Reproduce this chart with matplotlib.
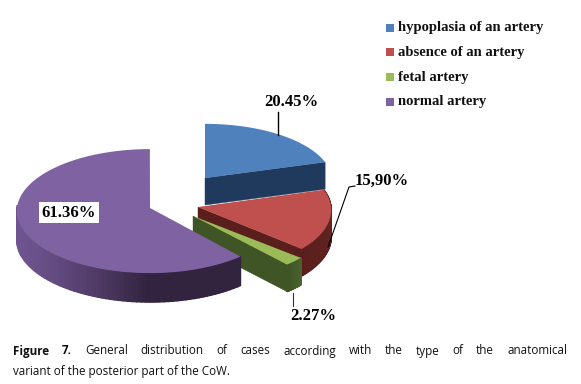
import matplotlib
matplotlib.use('Agg')
import matplotlib.pyplot as plt
from matplotlib.patches import Polygon, Rectangle
import numpy as np

# Data
labels = ['hypoplasia of an artery', 'absence of an artery', 'fetal artery', 'normal artery']
values = [20.45, 15.90, 2.27, 61.36]
value_labels = ['20.45%', '15,90%', '2.27%', '61.36%']

top_colors = ['#4f81bd', '#c0504d', '#9bbb59', '#7f62a1']
wall_colors = ['#1f3a5c', '#5a1f1d', '#3f5526', '#32233f']
rim_light = ['#2a4a70', '#6a2624', '#4a6330', '#6f5590']

# apex of every slice in pixels (exploded pie), disc radii, depth
centers = [(205, 178), (198, 207), (193, 216), (150, 208)]
radii_x = [127, 133, 138, 133]
radii_y = [57, 62, 62, 62]
depths = [27, 27, 27, 29]
persp = 0.05

fig = plt.figure(figsize=(5.81, 3.84), dpi=100)
ax = fig.add_axes([0, 0, 1, 1])
ax.set_xlim(0, 581)
ax.set_ylim(384, 0)
ax.axis('off')


def disc(i, a):
    # point on the tilted disc of slice i, a in degrees
    a = np.radians(a)
    s = 1 - persp * np.sin(a)
    return centers[i][0] + radii_x[i] * np.cos(a) * s, centers[i][1] - radii_y[i] * np.sin(a) * s


def mix(c1, c2, t):
    c1 = np.array(matplotlib.colors.to_rgb(c1))
    c2 = np.array(matplotlib.colors.to_rgb(c2))
    return c1 + (c2 - c1) * t


# slice angles, clockwise from 12 o'clock
ends = 90 - np.cumsum(values) * 3.6
starts = np.r_[90, ends[:-1]]

for i in range(4):
    c = centers[i]
    depth = depths[i]
    a0, a1 = starts[i], ends[i]
    angles = np.linspace(a0, a1, 120)
    xs, ys = disc(i, angles)

    # cut face
    p1 = disc(i, a1)
    if i < 3:
        ax.add_patch(Polygon([(c[0], c[1]), p1, (p1[0], p1[1] + depth), (c[0], c[1] + depth)],
                             fc=wall_colors[i], ec=wall_colors[i], lw=0.3))

    # rim, shaded along the arc
    if i > 0:
        for j in range(len(angles) - 1):
            if np.sin(np.radians(angles[j])) > 0.02 and np.cos(np.radians(angles[j])) < 0:
                continue
            if i == 3:
                t = np.clip((xs[j] - xs.min()) / (xs[-1] - xs.min()), 0, 1) ** 1.3
            else:
                t = j / (len(angles) - 1)
            col = mix(rim_light[i], wall_colors[i], t)
            ax.add_patch(Polygon([(xs[j], ys[j]), (xs[j + 1], ys[j + 1]),
                                  (xs[j + 1], ys[j + 1] + depth), (xs[j], ys[j] + depth)],
                                 fc=col, ec=col, lw=1.0))

    # top face
    ax.add_patch(Polygon(np.c_[np.r_[c[0], xs], np.r_[c[1], ys]], fc=top_colors[i], ec='none'))

# Leader lines
ax.plot([278, 278], [112, 135], color='black', lw=1)
ax.plot([355, 349, 328], [186, 187, 247], color='black', lw=0.8)
ax.plot([293, 293], [293, 306], color='#333333', lw=0.8)

# Data labels
serif = {'family': 'Liberation Serif', 'weight': 'bold', 'fontsize': 12, 'ha': 'center', 'va': 'center'}
ax.text(291, 102, value_labels[0], **serif)
ax.text(382, 181, value_labels[1], **serif)
ax.text(313, 316, value_labels[2], **serif)
ax.add_patch(Rectangle((39, 202), 60, 21, fc='white', ec='none'))
ax.text(69, 213, value_labels[3], **serif)

# Legend
for i, y in enumerate([28, 52.5, 77, 102]):
    ax.add_patch(Rectangle((386, y - 4.5), 8, 8, fc=top_colors[i], ec='none'))
    ax.text(398, y, labels[i], family='Liberation Serif', weight='bold', fontsize=10.5,
            ha='left', va='center', color='#111111')

# Caption, first line justified word by word
renderer = fig.canvas.get_renderer()
line1 = [('Figure', 'bold'), ('7.', 'bold'), ('General', 'normal'), ('distribution', 'normal'),
         ('of', 'normal'), ('cases', 'normal'), ('according', 'normal'), ('with', 'normal'),
         ('the', 'normal'), ('type', 'normal'), ('of', 'normal'), ('the', 'normal'),
         ('anatomical', 'normal')]
cap = {'family': 'Open Sans', 'fontsize': 8.4, 'va': 'center', 'color': '#111111'}
words = [ax.text(13, 351, w, weight=b, **cap) for w, b in line1]
widths = [t.get_window_extent(renderer).width for t in words]
gap = (567 - 13 - sum(widths)) / (len(words) - 1)
x = 13
for t, w in zip(words, widths):
    t.set_x(x)
    x += w + gap
ax.text(13, 371, 'variant of the posterior part of the CoW.', **cap)

fig.savefig('out.png', dpi=100)
